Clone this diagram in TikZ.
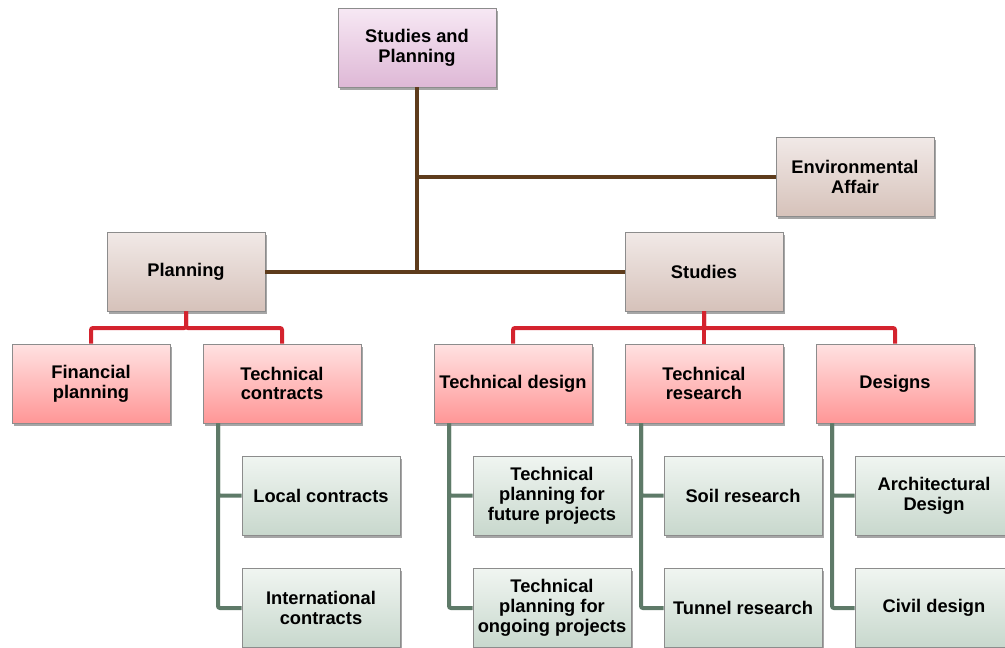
\documentclass[tikz,border=0pt]{standalone}
\usepackage{fontspec}
\setmainfont{Liberation Sans}
\usetikzlibrary{shadows}
\definecolor{trunkbrown}{HTML}{5E3C1C}
\definecolor{linkred}{HTML}{D4232E}
\definecolor{leafgreen}{HTML}{5E7A68}
\tikzset{
  box/.style={draw=black!45, line width=0.6pt, minimum width=158pt, minimum height=79pt,
    align=center, font=\fontsize{18.3}{19.8}\selectfont\bfseries, inner sep=2pt,
    drop shadow={shadow xshift=1.5pt, shadow yshift=-2.5pt, opacity=0.35, fill=black}},
  rootbox/.style={box, top color={rgb,255:red,247;green,232;blue,244}, bottom color={rgb,255:red,222;green,184;blue,214}},
  midbox/.style={box, top color={rgb,255:red,241;green,233;blue,231}, bottom color={rgb,255:red,214;green,194;blue,186}},
  redbox/.style={box, top color={rgb,255:red,255;green,226;blue,226}, bottom color={rgb,255:red,255;green,150;blue,150}},
  leafbox/.style={box, top color={rgb,255:red,240;green,245;blue,241}, bottom color={rgb,255:red,200;green,216;blue,205}},
  trunk/.style={draw=trunkbrown, line width=4pt},
  redlink/.style={draw=linkred, line width=4pt, rounded corners=2pt},
  greenlink/.style={draw=leafgreen, line width=4pt, rounded corners=2pt},
}
\begin{document}
\begin{tikzpicture}[x=1pt,y=-1pt]
\useasboundingbox (0,0) rectangle (1005,648);

% junction points on the trunk
\coordinate (tjoin) at (417,271);
\coordinate (ejoin) at (417,177);

% boxes
\node[rootbox] (root) at (417,47.5) {Studies and\\Planning};
\node[midbox] (env) at (855,177) {Environmental\\Affair};
\node[midbox] (plan) at (186,271.5) {Planning};
\node[midbox] (stud) at (704,271.5) {Studies};

\node[redbox] (fin) at (91,383.5) {Financial\\planning};
\node[redbox] (tcon) at (282,383.5) {Technical\\contracts};
\node[redbox] (tdes) at (513,383.5) {Technical design};
\node[redbox] (tres) at (704,383.5) {Technical\\research};
\node[redbox] (des) at (895,383.5) {Designs};

\node[leafbox] (loc) at (321,495.5) {Local contracts};
\node[leafbox] (intl) at (321,608) {International\\contracts};
\node[leafbox] (fut) at (552,495.5) {Technical\\planning for\\future projects};
\node[leafbox] (ong) at (552,608) {Technical\\planning for\\ongoing projects};
\node[leafbox] (soil) at (743,495.5) {Soil research};
\node[leafbox] (tun) at (743,608) {Tunnel research};
\node[leafbox] (arch) at (934,495.5) {Architectural\\Design};
\node[leafbox] (civ) at (934,608) {Civil design};

% trunk lines
\draw[trunk] (root.south) -- (tjoin);
\draw[trunk] (ejoin) -- (env.west);
\draw[trunk] (plan.east) -- (stud.west);

% red branches
\draw[redlink] (plan.south) -- (186,328) -| (fin.north);
\draw[redlink] (plan.south) -- (186,328) -| (tcon.north);
\draw[redlink] (stud.south) -- (704,328) -| (tdes.north);
\draw[redlink] (stud.south) -- (704,328) -| (des.north);
\draw[redlink] (stud.south) -- (tres.north);

% green leaves
\draw[greenlink] (tcon.south -| 218,0) |- (loc.west);
\draw[greenlink] (tcon.south -| 218,0) |- (intl.west);
\draw[greenlink] (tdes.south -| 449,0) |- (fut.west);
\draw[greenlink] (tdes.south -| 449,0) |- (ong.west);
\draw[greenlink] (tres.south -| 641,0) |- (soil.west);
\draw[greenlink] (tres.south -| 641,0) |- (tun.west);
\draw[greenlink] (des.south -| 832,0) |- (arch.west);
\draw[greenlink] (des.south -| 832,0) |- (civ.west);
\end{tikzpicture}
\end{document}
